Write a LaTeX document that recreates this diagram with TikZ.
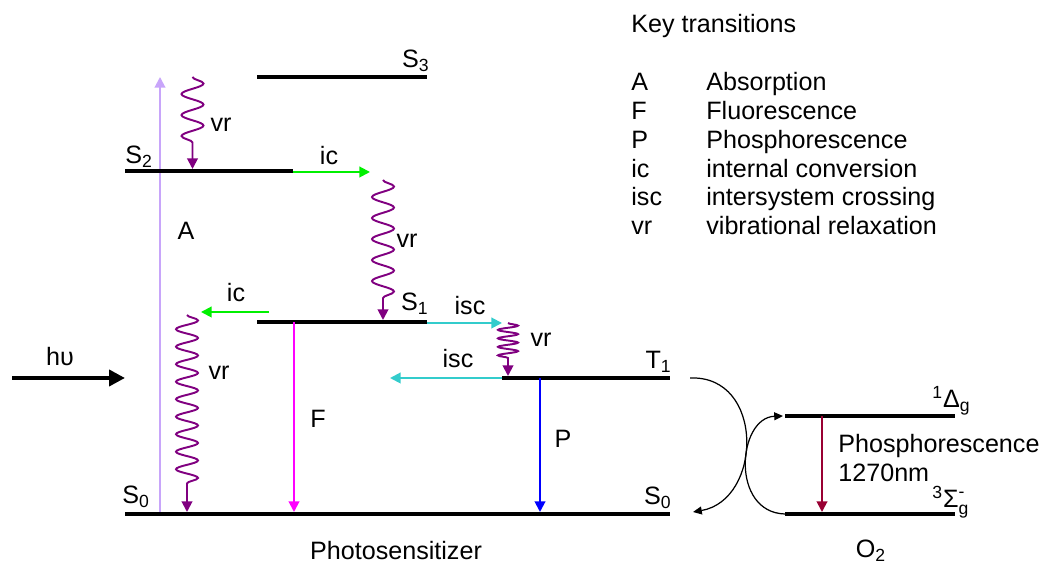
\documentclass[tikz,border=0pt]{standalone}
\usepackage{fontspec}
\setmainfont{Liberation Sans}
\usepackage{amsmath}
\usetikzlibrary{arrows.meta,calc,decorations.pathmorphing}
\definecolor{absorb}{RGB}{200,165,250}
\definecolor{vrpurple}{RGB}{128,0,128}
\definecolor{icgreen}{RGB}{0,240,0}
\definecolor{iscteal}{RGB}{51,204,204}
\definecolor{fmag}{RGB}{255,0,255}
\definecolor{o2red}{RGB}{153,0,51}

\begin{document}
\begin{tikzpicture}[
    >={Triangle[length=6pt,width=6pt]},
    level/.style={line width=2.4pt},
    trans/.style={->, line width=1.1pt},
    wave/.style={->, line width=1.1pt, draw=vrpurple, decorate, decoration={snake, amplitude=0.22cm, segment length=0.42cm, post length=0.35cm}},
    swap/.style={-{Triangle[length=5pt,width=4.5pt]}, line width=0.7pt},
    lbl/.style={font=\fontsize{14.3}{17}\selectfont, inner sep=0pt, anchor=base}
]
\useasboundingbox (0,0) rectangle (20.82,11.3);

% level end points
\coordinate (S3l) at (5.14,9.76);  \coordinate (S3r) at (8.54,9.76);
\coordinate (S2l) at (2.5,7.88);   \coordinate (S2r) at (5.86,7.88);
\coordinate (S1l) at (5.14,4.86);  \coordinate (S1r) at (8.54,4.86);
\coordinate (T1l) at (10.04,3.74); \coordinate (T1r) at (13.4,3.74);
\coordinate (S0l) at (2.5,1.02);   \coordinate (S0r) at (13.4,1.02);
\coordinate (Dgl) at (15.7,2.98);  \coordinate (Dgr) at (19.1,2.98);
\coordinate (Sgl) at (15.7,1.02);  \coordinate (Sgr) at (19.1,1.02);

% absorption, behind the levels
\coordinate (Abot) at (3.2,1.06); \coordinate (Atop) at (3.2,9.76);
\draw[trans, absorb] (Abot) -- (Atop);

\foreach \a/\b in {S3l/S3r, S2l/S2r, S1l/S1r, T1l/T1r, S0l/S0r, Dgl/Dgr, Sgl/Sgr}
    \draw[level] (\a) -- (\b);

% incoming light
\coordinate (hvs) at (0.24,3.74); \coordinate (hve) at (2.5,3.74);
\draw[-{Triangle[length=9pt,width=9pt]}, line width=2.2pt] (hvs) -- (hve);

% transitions
\coordinate (vr1s) at (3.85,9.76);  \coordinate (vr1e) at (3.85,7.92);
\coordinate (ic1s) at (5.86,7.86);  \coordinate (ic1e) at (7.4,7.86);
\coordinate (vr2s) at (7.66,7.7);   \coordinate (vr2e) at (7.66,4.9);
\coordinate (ic2s) at (5.38,5.06);  \coordinate (ic2e) at (4.02,5.06);
\coordinate (vr3s) at (3.74,5.0);   \coordinate (vr3e) at (3.74,1.06);
\coordinate (Fs) at (5.88,4.86);    \coordinate (Fe) at (5.88,1.06);
\coordinate (isc1s) at (8.54,4.84); \coordinate (isc1e) at (10.04,4.84);
\coordinate (vr4s) at (10.16,4.84); \coordinate (vr4e) at (10.16,3.78);
\coordinate (isc2s) at (10.04,3.74); \coordinate (isc2e) at (7.8,3.74);
\coordinate (Ps) at (10.8,3.74);    \coordinate (Pe) at (10.8,1.06);
\coordinate (Os) at (16.44,2.98);   \coordinate (Oe) at (16.44,1.06);

\draw[wave] (vr1s) -- (vr1e);
\draw[trans, icgreen] (ic1s) -- (ic1e);
\draw[wave] (vr2s) -- (vr2e);
\draw[trans, icgreen] (ic2s) -- (ic2e);
\draw[wave, decoration={snake, amplitude=0.22cm, segment length=0.35cm, post length=0.5cm}] (vr3s) -- (vr3e);
\draw[trans, fmag] (Fs) -- (Fe);
\draw[trans, iscteal] (isc1s) -- (isc1e);
\draw[wave, decoration={snake, amplitude=0.2cm, segment length=0.17cm, post length=0.35cm}] (vr4s) -- (vr4e);
\draw[trans, iscteal] (isc2s) -- (isc2e);
\draw[trans, blue] (Ps) -- (Pe);
\draw[trans, o2red] (Os) -- (Oe);

% energy transfer to oxygen
\coordinate (c1s) at (13.8,3.74);  \coordinate (c1e) at (13.86,1.06);
\coordinate (c2s) at (15.7,1.02);  \coordinate (c2e) at (15.66,2.98);
\draw[swap] (c1s) .. controls (15.3,3.8) and (15.25,1.3) .. (c1e);
\draw[swap] (c2s) .. controls (14.6,1.05) and (14.75,2.95) .. (c2e);

% level labels
\node[lbl, anchor=base east] (lS3) at (8.6,9.94) {S\textsubscript{3}};
\node[lbl, anchor=base west] (lS2) at (2.5,8.03) {S\textsubscript{2}};
\node[lbl, anchor=base east] (lS1) at (8.58,5.08) {S\textsubscript{1}};
\node[lbl, anchor=base east] (lT1) at (13.44,3.92) {T\textsubscript{1}};
\node[lbl, anchor=base west] (lS0a) at (2.44,1.22) {S\textsubscript{0}};
\node[lbl, anchor=base east] (lS0b) at (13.44,1.2) {S\textsubscript{0}};
\node[lbl, anchor=base west] (lDg) at (18.64,3.14) {$^{\text{1}}\text{Δ}_{\text{g}}$};
\node[lbl, anchor=base west] (lSg) at (18.64,1.14) {$^{\text{3}}\text{Σ}^{\text{-}}_{\text{g}}$};

% transition labels
\node[lbl] (lhv) at (1.2,3.98) {hυ};
\node[lbl] (lA) at (3.72,6.5) {A};
\node[lbl] (lvr1) at (4.42,8.66) {vr};
\node[lbl] (lic1) at (6.58,8.0) {ic};
\node[lbl] (lvr2) at (8.14,6.34) {vr};
\node[lbl] (lic2) at (4.72,5.26) {ic};
\node[lbl] (lvr3) at (4.38,3.7) {vr};
\node[lbl] (lF) at (6.36,2.74) {F};
\node[lbl] (lisc1) at (9.4,5.0) {isc};
\node[lbl] (lvr4) at (10.82,4.36) {vr};
\node[lbl] (lisc2) at (9.16,3.94) {isc};
\node[lbl] (lP) at (11.26,2.34) {P};
\node[lbl, anchor=base west] (lph) at (16.76,2.24) {Phosphorescence};
\node[lbl, anchor=base west] (lnm) at (16.76,1.66) {1270nm};

\node[lbl] (lps) at (7.92,0.1) {Photosensitizer};
\node[lbl] (lO2) at (17.42,0.14) {O\textsubscript{2}};

% key
\node[lbl, anchor=base west] (keyt) at (12.62,10.64) {Key transitions};
\foreach \k/\v [count=\i] in {A/Absorption, F/Fluorescence, P/Phosphorescence,
    ic/internal conversion, isc/intersystem crossing, vr/vibrational relaxation} {
    \node[lbl, anchor=base west] (key\i) at (12.62,{9.48-0.574*(\i-1)}) {\k};
    \node[lbl, anchor=base west] (val\i) at (14.12,{9.48-0.574*(\i-1)}) {\v};
}
\end{tikzpicture}
\end{document}
